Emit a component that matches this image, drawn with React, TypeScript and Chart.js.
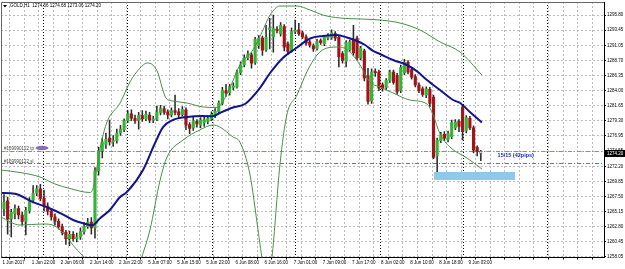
import React, { useEffect, useRef } from 'react';
import { Chart, registerables } from 'chart.js';
Chart.register(...registerables);

const headerText = 'GOLD,H1  1274.56 1274.68 1273.06 1274.20';
const timeLabels = ['1 Jun 2017','1 Jun 22:00','2 Jun 06:00','2 Jun 14:00','2 Jun 22:00','5 Jun 07:00','5 Jun 15:00','5 Jun 23:00','6 Jun 08:00','6 Jun 16:00','7 Jun 01:00','7 Jun 09:00','7 Jun 17:00','8 Jun 02:00','8 Jun 10:00','8 Jun 18:00','9 Jun 03:00'];
const yTickValues = [1295.80,1293.45,1291.05,1288.70,1286.35,1284.00,1281.65,1279.30,1276.95,1274.55,1272.20,1269.85,1267.50,1265.15,1262.80,1260.45,1258.05];

const opens = [
1265.6,1266.8,1264.0,1264.8,1265.6,1264.6,1263.6,1265.3,1266.9,1268.0,
1268.7,1267.2,1266.0,1265.2,1264.3,1263.6,1262.8,1261.9,1260.9,1261.6,
1260.9,1261.2,1262.0,1262.8,1263.5,1262.6,1271.5,1274.6,1275.6,1276.6,
1276.0,1276.2,1277.4,1277.9,
1279.3,1280.4,1279.7,1279.4,1280.1,1279.6,1280.2,1279.4,1279.5,1280.6,
1281.2,1280.7,1280.2,1280.9,1280.7,1280.3,1281.0,1278.7,1278.2,1279.2,
1278.6,1279.0,1279.2,1279.6,1280.1,1280.7,1282.0,1284.0,1283.7,1284.5,
1284.6,1286.8,1288.0,
1289.1,1289.6,1288.4,1291.0,1292.2,1290.4,1293.5,1292.4,1293.6,1292.9,
1294.0,1291.3,1290.3,1293.2,1293.5,1293.0,1292.4,1291.6,1291.0,1290.6,
1291.8,1291.3,1292.2,1292.3,1292.9,1292.3,1289.8,1288.6,1290.4,1291.9,
1292.2,1289.1,1290.2,
1286.3,1282.4,1286.9,1286.9,1284.9,1284.5,1285.6,1286.9,1286.4,1284.0,
1286.8,1288.4,1287.3,1286.2,1284.9,1284.3,1283.3,1284.2,1283.0,1273.8,
1276.2,1277.2,1276.4,1276.8,1278.2,1279.2,1281.4,1277.8,1279.7,1278.2,
1275.1,1274.56];
const highs = [
1267.8,1267.4,1265.5,1266.2,1266.0,1265.0,1265.8,1267.3,1269.2,1269.2,
1269.4,1268.5,1266.5,1265.6,1264.8,1264.0,1263.2,1262.2,1262.1,1262.0,
1261.8,1262.6,1263.4,1264.1,1264.2,1272.0,1275.2,1276.6,1277.4,1279.4,
1277.0,1278.0,1278.6,1279.6,
1280.9,1281.0,1280.2,1280.6,1280.9,1280.8,1280.6,1280.0,1281.6,1281.7,
1281.6,1281.0,1281.3,1283.3,1281.2,1281.5,1281.3,1279.0,1280.0,1279.5,
1279.8,1279.9,1280.1,1280.7,1281.2,1282.4,1284.5,1285.0,1285.0,1285.2,
1287.2,1288.5,1289.6,
1290.2,1289.9,1292.3,1292.6,1292.5,1294.2,1295.3,1295.8,1294.0,1294.6,
1294.3,1291.6,1293.8,1295.0,1294.5,1293.3,1292.7,1291.9,1291.3,1292.0,
1292.1,1292.6,1292.9,1293.5,1293.2,1292.5,1290.1,1291.8,1291.9,1294.2,
1292.5,1290.9,1290.5,
1287.5,1287.4,1287.4,1287.2,1285.2,1285.9,1287.2,1287.2,1286.7,1288.0,
1288.9,1288.7,1287.6,1286.5,1285.2,1284.6,1284.6,1284.5,1283.3,1276.6,
1277.5,1277.6,1277.7,1279.4,1279.5,1279.5,1281.7,1280.1,1280.0,1278.5,
1275.4,1274.68];
const lows = [
1264.5,1261.6,1261.2,1264.0,1264.0,1263.0,1261.5,1264.9,1266.5,1267.6,
1266.8,1265.2,1264.6,1263.8,1263.0,1262.4,1261.5,1260.0,1259.8,1260.5,
1260.4,1260.8,1261.6,1262.5,1261.6,1261.0,1270.8,1273.5,1275.0,1275.5,
1275.3,1275.8,1277.0,1277.6,
1279.0,1279.3,1278.9,1278.0,1279.2,1279.3,1279.0,1279.0,1279.3,1280.2,
1280.3,1279.6,1279.9,1280.2,1279.8,1280.0,1277.9,1277.3,1277.8,1278.3,
1278.2,1278.4,1278.8,1279.3,1279.8,1280.4,1281.8,1283.1,1283.3,1284.1,
1284.4,1286.5,1287.7,
1288.8,1287.5,1288.1,1290.6,1289.5,1290.1,1290.5,1290.0,1293.0,1292.5,
1290.2,1289.6,1290.0,1292.9,1292.6,1292.1,1291.1,1290.8,1290.1,1290.3,
1291.2,1291.0,1291.9,1292.0,1291.8,1287.7,1288.3,1287.7,1290.1,1289.5,
1288.8,1288.8,1285.5,
1281.9,1282.0,1286.2,1284.0,1283.9,1284.2,1285.3,1285.0,1283.4,1283.7,
1286.5,1286.6,1285.8,1284.6,1283.7,1283.1,1282.9,1281.5,1273.4,1271.2,
1275.9,1276.2,1276.0,1276.5,1277.9,1277.6,1276.3,1277.4,1277.9,1274.3,
1273.8,1273.06];
const closes = [
1266.6,1264.0,1265.0,1265.6,1264.6,1263.6,1265.3,1266.9,1268.0,1268.7,
1267.2,1266.0,1265.2,1264.3,1263.6,1262.8,1261.9,1260.9,1261.6,1260.9,
1261.2,1262.0,1262.8,1263.5,1262.6,1271.5,1274.6,1276.0,1276.4,1276.0,
1276.2,1277.4,1278.0,1279.3,
1280.4,1279.7,1279.3,1280.1,1279.6,1280.3,1279.4,1279.6,1280.6,1281.2,
1280.6,1280.2,1280.9,1280.6,1280.2,1281.1,1278.6,1278.1,1279.3,1278.8,
1279.4,1279.5,1279.7,1280.3,1280.8,1282.1,1284.1,1283.6,1284.6,1284.7,
1286.8,1288.0,1289.1,
1289.7,1288.3,1292.0,1292.2,1290.3,1292.3,1293.8,1293.7,1293.4,1294.2,
1290.8,1290.1,1293.2,1293.4,1292.9,1292.4,1291.4,1291.1,1290.5,1291.7,
1291.5,1292.3,1292.6,1293.0,1292.2,1289.3,1288.7,1291.5,1291.6,1289.9,
1289.1,1290.6,1286.0,
1282.3,1286.9,1286.8,1284.4,1284.3,1285.6,1286.9,1285.3,1283.8,1287.6,
1288.4,1286.9,1286.1,1284.9,1284.0,1283.4,1284.3,1282.0,1273.6,1276.3,
1277.1,1276.6,1277.3,1279.0,1279.1,1278.4,1277.6,1279.8,1278.2,1274.7,
1274.5,1274.20];

// [bar index, price]
const maLine = [[-0.9,1268.03],[3,1267.9],[8,1266.6],[12,1265.77],[16,1264.75],[19,1263.82],[22,1263.27],[24.3,1263.0],[26.4,1264.1],[29.1,1265.38],[31.9,1267.4],[33.8,1268.2],[38.2,1271.62],[41.5,1275.83],[43.7,1278.3],[46.4,1279.42],[50.3,1279.89],[54.7,1280.04],[57.4,1280.0],[59.3,1280.51],[62.9,1281.37],[66.2,1281.92],[70.3,1284.41],[73.1,1286.75],[76.6,1289.1],[80.5,1290.73],[84.1,1292.13],[87.6,1292.52],[91.5,1292.68],[94.2,1292.29],[97,1291.74],[99.2,1291.12],[101.4,1290.2],[103.3,1289.72],[106.9,1288.78],[110.7,1288.0],[113.5,1287.0],[116.2,1285.66],[119.8,1284.10],[123.4,1282.54],[125.3,1282.07],[128,1280.67],[131.3,1279.03]];
const upperBand = [[-0.9,1271.62],[4.4,1271.23],[9.9,1270.53],[14,1269.44],[18.1,1268.74],[23.6,1268.11],[24.5,1268.81],[25.5,1271.93],[26.6,1275.52],[28.3,1279.11],[31.9,1282.07],[34.6,1285.35],[37.4,1287.53],[39.3,1288.31],[40.9,1288.0],[42.3,1286.75],[43.4,1284.57],[44.5,1282.85],[46.4,1282.38],[50.3,1282.07],[54.7,1281.45],[58.5,1281.37],[59.9,1282.07],[62.4,1284.88],[64.8,1288.0],[68.4,1290.34],[70.9,1293.15],[73.1,1295.8],[75.8,1297.2],[80.5,1297.2],[84.1,1296.58],[87.6,1295.8],[92.3,1295.33],[97.8,1295.18],[103.3,1295.02],[108.8,1294.55],[114.3,1293.46],[119.8,1291.59],[125.3,1290.03],[131.3,1286.44]];
const lowerBand = [[-0.9,1264.29],[4.4,1263.04],[10.7,1263.2],[14,1262.89],[16.2,1261.8],[20.1,1259.14],[22.3,1257.89],[24.5,1256.33],[27,1252.0],[31,1250.5],[35,1251.5],[37.4,1257.11],[40.1,1262.26],[42.9,1270.06],[44.8,1273.65],[49.2,1276.3],[53.8,1277.86],[57.4,1278.64],[59.3,1278.33],[62.9,1276.77],[64.8,1275.99],[67.6,1270.84],[69.8,1262.26],[70.9,1257.9],[72.5,1254.5],[73.6,1257.9],[75.8,1272.4],[77.7,1280.2],[80.5,1283.32],[83.2,1286.91],[86,1289.56],[88.7,1290.65],[92.3,1290.81],[95,1290.03],[97.8,1288.0],[100.5,1285.35],[103.3,1284.57],[106.9,1283.63],[111.5,1282.54],[116.2,1281.92],[117.9,1280.2],[119.8,1277.24],[122.5,1275.21],[127.2,1273.49],[131.3,1271.78]];

const daySeparators = [10.7, 33.8, 57.1, 80.0, 103.3, 126.1, 149.2];
const tpLevel = 1274.63;
const slLevel = 1272.71;
const currentPrice = 1274.20;
const zoneBox = { x0: 118.1, x1: 140.4, top: 1271.31, bottom: 1270.06 };
const noteText = '15/15 (42pips)';
const notePos = { x: 135.6, price: 1273.9 };
const tpLabel = '#169990122 tp';
const slLabel = '#169990122 sl';

const FONT = 'Liberation Sans';

const overlay = {
  id: 'overlay',
  beforeDatasetsDraw(chart: any) {
    const { ctx, chartArea: a, scales } = chart;
    const x = scales.x, y = scales.y;
    ctx.save();
    ctx.lineWidth = 1;
    ctx.strokeStyle = '#000';
    ctx.setLineDash([1, 2]);
    for (const d of daySeparators) {
      const px = Math.round(x.getPixelForValue(d)) + 0.5;
      ctx.beginPath(); ctx.moveTo(px, a.top); ctx.lineTo(px, a.bottom); ctx.stroke();
    }
    const tpY = Math.round(y.getPixelForValue(tpLevel)) + 0.5;
    const slY = Math.round(y.getPixelForValue(slLevel)) + 0.5;
    ctx.setLineDash([4, 2, 1, 2]);
    ctx.strokeStyle = '#6aa86a';
    ctx.beginPath(); ctx.moveTo(a.left, tpY); ctx.lineTo(a.right, tpY); ctx.stroke();
    ctx.strokeStyle = '#d05050';
    ctx.beginPath(); ctx.moveTo(a.left, slY); ctx.lineTo(a.right, slY); ctx.stroke();
    ctx.setLineDash([]);
    ctx.fillStyle = '#444';
    ctx.font = `4.5px "${FONT}"`;
    ctx.textBaseline = 'alphabetic';
    ctx.textAlign = 'left';
    ctx.fillText(tpLabel, a.left + 3, tpY - 1.5);
    ctx.fillText(slLabel, a.left + 3, slY - 0.5);
    ctx.fillStyle = '#8a6cb8';
    ctx.beginPath();
    ctx.ellipse(a.left + 41, tpY - 3.5, 6.5, 2.2, 0, 0, Math.PI * 2);
    ctx.fill();
    ctx.restore();
  },
  afterDraw(chart: any) {
    const { ctx, chartArea: a, scales } = chart;
    const x = scales.x, y = scales.y;
    ctx.save();
    const rx0 = x.getPixelForValue(zoneBox.x0), rx1 = x.getPixelForValue(zoneBox.x1);
    const ry0 = y.getPixelForValue(zoneBox.top), ry1 = y.getPixelForValue(zoneBox.bottom);
    ctx.fillStyle = '#8cc9ea';
    ctx.fillRect(rx0, ry0, rx1 - rx0, ry1 - ry0);
    ctx.fillStyle = '#1c2fb8';
    ctx.font = `bold 5.5px "${FONT}"`;
    ctx.textAlign = 'left';
    ctx.textBaseline = 'middle';
    ctx.fillText(noteText, x.getPixelForValue(notePos.x), y.getPixelForValue(notePos.price));
    ctx.strokeStyle = '#666';
    ctx.lineWidth = 1;
    ctx.beginPath();
    ctx.moveTo(a.left + 0.5, a.bottom); ctx.lineTo(a.left + 0.5, a.top + 0.5); ctx.lineTo(a.right, a.top + 0.5);
    ctx.stroke();
    const py = y.getPixelForValue(currentPrice);
    ctx.fillStyle = '#000';
    ctx.fillRect(a.right + 1, py - 3.5, 625 - a.right - 1, 7);
    ctx.fillStyle = '#fff';
    ctx.font = `4.5px "${FONT}"`;
    ctx.textAlign = 'left';
    ctx.fillText(currentPrice.toFixed(2), a.right + 3, py + 0.3);
    ctx.fillStyle = '#000';
    ctx.beginPath();
    ctx.moveTo(a.left + 2, a.top + 3); ctx.lineTo(a.left + 6, a.top + 3); ctx.lineTo(a.left + 4, a.top + 5.5); ctx.closePath(); ctx.fill();
    ctx.font = `4.5px "${FONT}"`;
    ctx.textBaseline = 'middle';
    ctx.fillText(headerText, a.left + 9, a.top + 4);
    ctx.restore();
  },
};

export default function App() {
  const ref = useRef<HTMLCanvasElement>(null);
  useEffect(() => {
    const n = opens.length;
    const idx = Array.from({ length: n }, (_, i) => i);
    const bodyColors = idx.map((i) =>
      i === n - 1 ? '#d8d8d8' : closes[i] > opens[i] ? '#36b436' : closes[i] < opens[i] ? '#a3141a' : '#555'
    );
    const chart = new Chart(ref.current as HTMLCanvasElement, {
      type: 'bar',
      data: {
        datasets: [
          {
            type: 'line', label: 'MA', data: maLine.map(([a, b]) => ({ x: a, y: b })),
            borderColor: '#14148c', borderWidth: 2, pointRadius: 0, cubicInterpolationMode: 'monotone', order: 0,
          } as any,
          {
            type: 'line', label: 'BB upper', data: upperBand.map(([a, b]) => ({ x: a, y: b })),
            borderColor: '#4b8f4b', borderWidth: 1, pointRadius: 0, cubicInterpolationMode: 'monotone', order: 0,
          } as any,
          {
            type: 'line', label: 'BB lower', data: lowerBand.map(([a, b]) => ({ x: a, y: b })),
            borderColor: '#4b8f4b', borderWidth: 1, pointRadius: 0, cubicInterpolationMode: 'monotone', order: 0,
          } as any,
          {
            type: 'bar', label: 'body', data: idx.map((i) => ({ x: i, y: [opens[i], closes[i]] })),
            backgroundColor: bodyColors, borderColor: idx.map((i) => (i === n - 1 ? '#444' : bodyColors[i])),
            borderWidth: idx.map((i) => (i === n - 1 ? 0.6 : 0)), borderSkipped: false,
            barThickness: 2.5, minBarLength: 1, grouped: false, order: 1,
          } as any,
          {
            type: 'bar', label: 'wick', data: idx.map((i) => ({ x: i, y: [lows[i], highs[i]] })),
            backgroundColor: '#2b2b2b', barThickness: 0.9, grouped: false, order: 2,
          } as any,
        ],
      },
      options: {
        responsive: false,
        devicePixelRatio: 1,
        animation: false,
        events: [],
        layout: { padding: { left: 1, top: 2, right: 0, bottom: 0 } },
        plugins: { legend: { display: false }, tooltip: { enabled: false }, title: { display: false } },
        scales: {
          x: {
            type: 'linear', min: -0.82, max: 164.84, offset: false,
            afterBuildTicks: (s: any) => {
              const t = [];
              for (let k = 0; k * 4 <= 164; k++) t.push({ value: k * 4 - 0.4 });
              s.ticks = t;
            },
            afterFit: (s: any) => { s.height = 11.5; s.paddingLeft = 0; s.paddingRight = 0; },
            ticks: {
              autoSkip: false, maxRotation: 0, minRotation: 0, align: 'start', padding: 0.5,
              color: '#000', font: { family: FONT, size: 4.5 },
              callback: (v: any) => {
                const k = Math.round((Number(v) + 0.4) / 4);
                return k % 2 === 0 && k / 2 < timeLabels.length ? timeLabels[k / 2] : '';
              },
            },
            grid: { color: '#bcbcbc', lineWidth: 1, tickLength: 2, tickColor: '#000' },
            border: { display: true, color: '#000', width: 1, dash: [2, 2] },
          } as any,
          y: {
            type: 'linear', position: 'right', min: 1257.972, max: 1297.828,
            afterBuildTicks: (s: any) => { s.ticks = yTickValues.map((v) => ({ value: v })); },
            afterFit: (s: any) => { s.width = 21; s.paddingTop = 0; s.paddingBottom = 0; },
            ticks: {
              autoSkip: false, padding: 1, color: '#000', font: { family: FONT, size: 4.5 },
              callback: (v: any) => Number(v).toFixed(2),
            },
            grid: { color: '#bcbcbc', lineWidth: 1, tickLength: 2, tickColor: '#000' },
            border: { display: true, color: '#000', width: 1, dash: [2, 2] },
          } as any,
        },
      } as any,
      plugins: [overlay],
    });
    return () => chart.destroy();
  }, []);
  return (
    <div style={{ position: 'fixed', left: 0, top: 0, width: 625, height: 269, background: '#fff' }}>
      <canvas ref={ref} width={625} height={269} style={{ display: 'block' }} />
    </div>
  );
}
